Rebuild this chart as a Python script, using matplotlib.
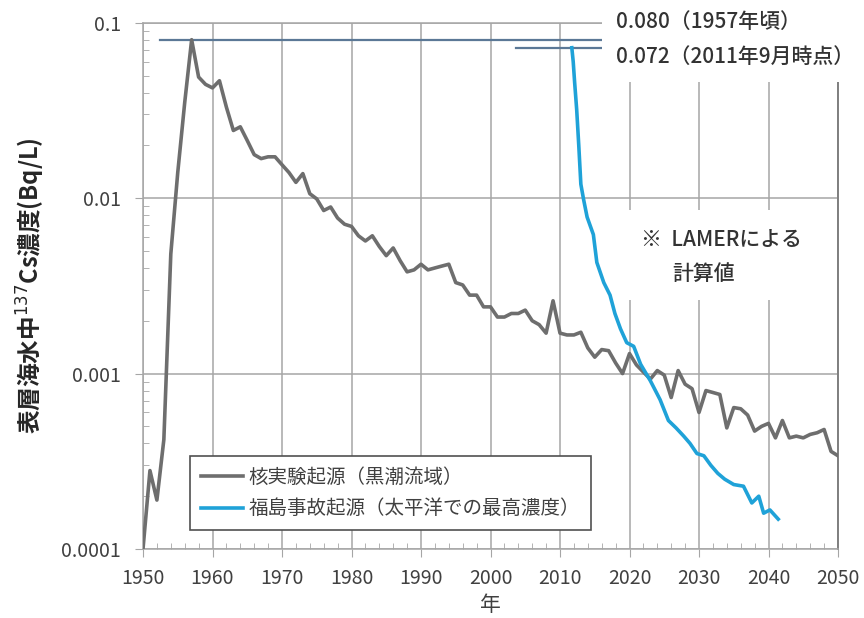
import matplotlib
matplotlib.use("Agg")
import matplotlib.pyplot as plt
from matplotlib.ticker import FixedLocator, LogLocator, NullFormatter
from matplotlib.patches import Rectangle

plt.rcParams['font.family'] = ['Noto Sans CJK JP', 'DejaVu Sans']

# 核実験起源 (黒潮流域), annual values
years_fallout = list(range(1950, 2051))
cs_fallout = [
    0.0001, 0.00028, 0.00019, 0.00042, 0.0048, 0.014, 0.035, 0.080, 0.049, 0.0445,
    0.0425, 0.0467, 0.033, 0.0243, 0.0255, 0.0213, 0.0177, 0.0168, 0.0172, 0.0172,
    0.0155, 0.014, 0.0123, 0.0138, 0.0106, 0.0099, 0.0085, 0.0089, 0.0077, 0.0071,
    0.0069, 0.0061, 0.0057, 0.0061, 0.0053, 0.0047, 0.0052, 0.0044, 0.0038, 0.0039,
    0.0042, 0.0039, 0.0040, 0.0041, 0.0042, 0.0033, 0.0032, 0.0028, 0.0028, 0.0024,
    0.0024, 0.0021, 0.0021, 0.0022, 0.0022, 0.0023, 0.0020, 0.0019, 0.0017, 0.0026,
    0.0017, 0.00166, 0.00166, 0.00172, 0.0014, 0.00124, 0.00137, 0.00135, 0.00115, 0.00100,
    0.0013, 0.00112, 0.00102, 0.00093, 0.00104, 0.00098, 0.00073, 0.00104, 0.00087, 0.00082,
    0.00060, 0.00080, 0.00078, 0.00076, 0.00049, 0.00064, 0.00063, 0.00058, 0.00047, 0.00050,
    0.00052, 0.00043, 0.00054, 0.00043, 0.00044, 0.00043, 0.00045, 0.00046, 0.00048, 0.00036,
    0.00034,
]

# 福島事故起源 (太平洋での最高濃度)
years_fukushima = [
    2011.7, 2011.9, 2012.1, 2012.4, 2012.7, 2013.0, 2013.4, 2013.9, 2014.8, 2015.3,
    2016.3, 2017.2, 2017.9, 2018.7, 2019.6, 2020.6, 2021.6, 2023.0, 2024.4, 2025.6,
    2026.7, 2027.8, 2028.7, 2029.7, 2030.7, 2031.7, 2032.7, 2033.7, 2035.0, 2036.4,
    2037.6, 2038.6, 2039.3, 2040.2, 2041.4,
]
cs_fukushima = [
    0.072, 0.060, 0.046, 0.032, 0.020, 0.012, 0.0098, 0.0078, 0.0062, 0.0043,
    0.0033, 0.0028, 0.0022, 0.0018, 0.0015, 0.00143, 0.00113, 0.00091, 0.00071, 0.00054,
    0.00049, 0.00044, 0.00040, 0.00035, 0.00034, 0.00030, 0.00027, 0.00025, 0.000233, 0.000228,
    0.000183, 0.00020, 0.00016, 0.000167, 0.000148,
]

peak_fallout = 0.080
peak_fukushima = 0.072

x_ticks = [1950, 1960, 1970, 1980, 1990, 2000, 2010, 2020, 2030, 2040, 2050]
y_ticks = [0.0001, 0.001, 0.01, 0.1]
y_ticklabels = ["0.0001", "0.001", "0.01", "0.1"]

W, H = 864, 618
fig = plt.figure(figsize=(W / 100, H / 100), dpi=100)
ax = fig.add_axes([143 / W, 1 - 549 / H, (838 - 143) / W, (549 - 22.7) / H])

grid_c = "#a6a6a6"
text_c = "#404040"

ax.set_yscale("log")
ax.set_xlim(1950, 2050)
ax.set_ylim(0.0001, 0.1)

ax.xaxis.set_major_locator(FixedLocator(x_ticks))
ax.set_xticklabels([str(v) for v in x_ticks])
ax.xaxis.set_minor_locator(FixedLocator(list(range(1952, 2050, 2))))
ax.yaxis.set_major_locator(FixedLocator(y_ticks))
ax.set_yticklabels(y_ticklabels)
ax.yaxis.set_minor_locator(LogLocator(base=10, subs=range(2, 10)))
ax.yaxis.set_minor_formatter(NullFormatter())

ax.grid(True, which="major", color=grid_c, lw=1.1)
ax.set_axisbelow(True)
ax.tick_params(axis="both", which="major", direction="out", length=6, color=grid_c,
               labelsize=14, labelcolor=text_c)
ax.tick_params(axis="x", which="major", pad=8)
ax.tick_params(axis="y", which="major", pad=10)
ax.tick_params(axis="both", which="minor", direction="in", length=4, color=grid_c)

for side in ("left", "bottom", "top"):
    ax.spines[side].set_color(grid_c)
    ax.spines[side].set_linewidth(1.1)
ax.spines["right"].set_color("#7f7f7f")
ax.spines["right"].set_linewidth(1.4)

ax.plot(years_fallout, cs_fallout, color="#6e6e6e", lw=2.6, zorder=4,
        label="核実験起源（黒潮流域）")
ax.plot(years_fukushima, cs_fukushima, color="#1fa2d8", lw=2.6, zorder=5,
        label="福島事故起源（太平洋での最高濃度）")

# reference levels for the two peaks
ax.plot([1952.5, 2016.3], [peak_fallout, peak_fallout], color="#5b7896", lw=1.6, zorder=3,
        clip_on=False)
ax.plot([2003.7, 2016.3], [peak_fukushima, peak_fukushima], color="#5b7896", lw=1.6, zorder=3,
        clip_on=False)

# white backing behind the annotations (display pixels, origin bottom-left)
ax.add_patch(Rectangle((602, H - 82), 262, 82, transform=None, facecolor="white",
                       edgecolor="none", zorder=3.5, clip_on=False))
ax.add_patch(Rectangle((624, H - 300), 186, 90, transform=None, facecolor="white",
                       edgecolor="none", zorder=3.5, clip_on=False))

ann_kw = dict(fontsize=15, color="#333333", va="center", ha="left", zorder=6,
              fontweight="medium")
fig.text(616 / W, 1 - 22 / H, "0.080（1957年頃）", **ann_kw)
fig.text(616 / W, 1 - 57 / H, "0.072（2011年9月時点）", **ann_kw)
fig.text(641 / W, 1 - 240 / H, "※  LAMERによる", **ann_kw)
fig.text(672 / W, 1 - 274 / H, "計算値", **ann_kw)

leg = ax.legend(loc="lower left", bbox_to_anchor=(0.0676, 0.036), borderaxespad=0,
                fontsize=14, frameon=True, fancybox=False, handlelength=2.2,
                handletextpad=0.25, labelspacing=0.55, borderpad=0.55)
leg.get_frame().set_edgecolor("#505050")
leg.get_frame().set_linewidth(1.2)
leg.get_frame().set_alpha(1)
for t in leg.get_texts():
    t.set_color(text_c)
leg.set_zorder(7)

ax.set_ylabel("表層海水中$^{137}$Cs濃度(Bq/L)", fontsize=17, fontweight="bold",
              color="#262626", labelpad=10)
fig.text(490 / W, 1 - 605 / H, "年", fontsize=15, color=text_c, ha="center", va="center")

fig.savefig("out.png", dpi=100, facecolor="white")
